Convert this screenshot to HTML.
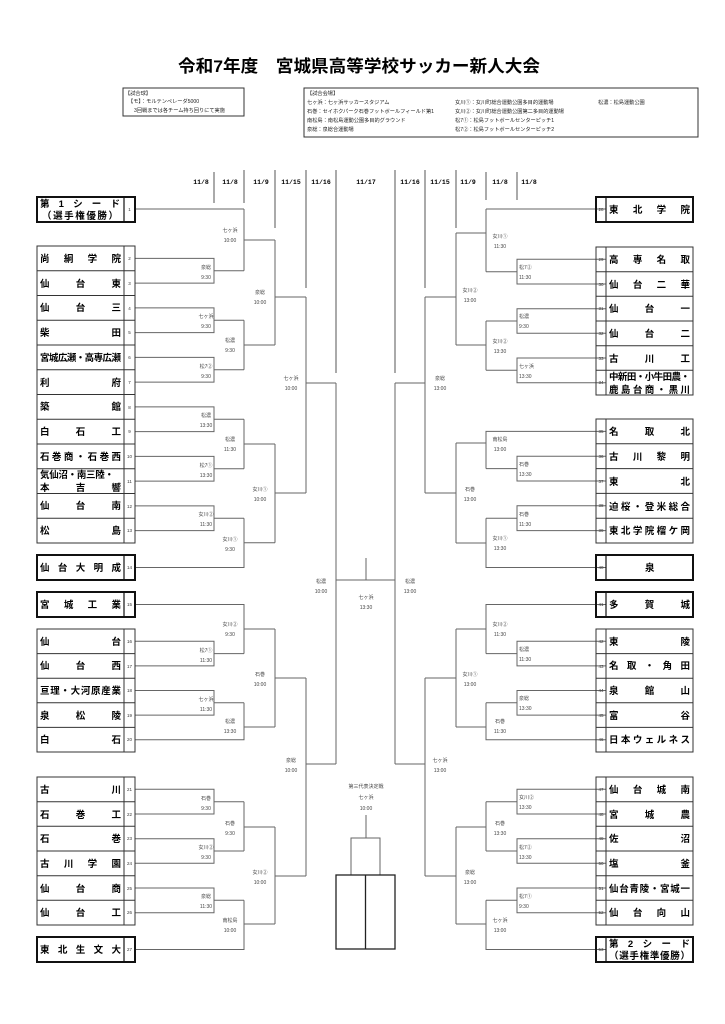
<!DOCTYPE html>
<html><head><meta charset="utf-8"><style>
html,body{margin:0;padding:0;background:#fff;}
svg{display:block;}
.t{font-family:"Liberation Sans","Noto Sans CJK JP",sans-serif;}
.nm{font-family:"Liberation Sans","Noto Sans CJK JP",sans-serif;font-weight:bold;font-size:9.5px;fill:#000;}
.no{font-family:"Liberation Sans",sans-serif;font-size:4.5px;fill:#333;}
.lb{font-family:"Liberation Sans","Noto Sans CJK JP",sans-serif;font-size:5px;fill:#444;}
.inf{font-family:"Liberation Sans","Noto Sans CJK JP",sans-serif;font-size:5.2px;fill:#222;}
.dt{font-family:"Liberation Mono",monospace;font-weight:bold;font-size:6.5px;fill:#000;}
</style></head><body>
<svg width="725" height="1024" viewBox="0 0 725 1024" xmlns="http://www.w3.org/2000/svg">
<rect width="725" height="1024" fill="#fff"/>
<text class="t" x="178" y="72" font-size="17" font-weight="bold" textLength="362" lengthAdjust="spacingAndGlyphs">令和7年度　宮城県高等学校サッカー新人大会</text>

<!-- info boxes -->
<rect x="123" y="88" width="121" height="28" fill="none" stroke="#333" stroke-width="1"/>
<text class="inf" x="125" y="95">【試合球】</text>
<text class="inf" x="128" y="103">【モ】：モルテンペレーダ5000</text>
<text class="inf" x="134" y="112">3回戦までは各チーム持ち回りにて実施</text>

<rect x="304" y="88" width="394" height="49" fill="none" stroke="#333" stroke-width="1"/>
<text class="inf" x="307" y="95">【試合会場】</text>
<text class="inf" x="307" y="104">七ヶ浜：七ヶ浜サッカースタジアム</text>
<text class="inf" x="307" y="113">石巻：セイホクパーク石巻フットボールフィールド第1</text>
<text class="inf" x="307" y="122">南松島：南松島運動公園多目的グラウンド</text>
<text class="inf" x="307" y="131">泉総：泉総合運動場</text>
<text class="inf" x="455" y="104">女川①：女川町総合運動公園多目的運動場</text>
<text class="inf" x="455" y="113">女川②：女川町総合運動公園第二多目的運動場</text>
<text class="inf" x="455" y="122">松7①：松島フットボールセンターピッチ1</text>
<text class="inf" x="455" y="131">松7②：松島フットボールセンターピッチ2</text>
<text class="inf" x="598" y="104">松濃：松島運動公園</text>

<!-- dates -->
<g class="dt" text-anchor="middle">
<text x="201" y="184">11/8</text><text x="230" y="184">11/8</text><text x="261" y="184">11/9</text>
<text x="291" y="184">11/15</text><text x="321" y="184">11/16</text><text x="366" y="184">11/17</text>
<text x="410" y="184">11/16</text><text x="440" y="184">11/15</text><text x="468" y="184">11/9</text>
<text x="500" y="184">11/8</text><text x="529" y="184">11/8</text>
</g>
<g stroke="#555" stroke-width="1" fill="none">
<path d="M214 172V203M244 170V203M275 170V228M306 170V288M336 170V373"/>
<path d="M395 170V373M425 170V288M456 170V228M486 172V200M517 172V200"/>
</g>

<!-- LEFT bracket lines -->
<g stroke="#666" stroke-width="1" fill="none">
<path d="M135 209H244"/>
<path d="M135 258.4H214V283.1H135M214 270.8H244"/>
<path d="M244 209V270.8M244 240H275"/>
<path d="M135 307.9H214V332.6H135M214 320.2H244"/>
<path d="M135 357.4H214V382.1H135M214 369.8H244"/>
<path d="M244 320.2V369.8M244 345H275"/>
<path d="M275 240V345M275 297H306"/>
<path d="M135 406.9H214V431.6H135M214 419.2H244"/>
<path d="M135 456.4H214V481.1H135M214 468.8H244"/>
<path d="M244 419.2V468.8M244 444H275"/>
<path d="M135 505.9H214V530.6H135M214 518.2H244"/>
<path d="M135 567.5H244V518.2M244 542.8H275"/>
<path d="M275 444V542.8M275 493H306"/>
<path d="M306 297V493M306 383H336"/>
<path d="M135 604.5H244V653.6M135 641.3H214V665.9H135M214 653.6H244M244 629H275"/>
<path d="M135 690.5H214V715.1H135M214 702.8H244M135 739.7H244V702.8M244 727H275"/>
<path d="M275 629V727M275 678H306"/>
<path d="M135 789.3H214V814H135M214 801.7H244"/>
<path d="M135 838.7H214V863.3H135M214 851H244"/>
<path d="M244 801.7V851M244 827H275"/>
<path d="M135 888H214V912.7H135M214 900.3H244M135 949.5H244V900.3M244 924H275"/>
<path d="M275 827V924M275 876H306"/>
<path d="M306 678V876M306 764H336"/>
<path d="M336 383V764M336 580H395M366 558V580"/>
<!-- RIGHT -->
<path d="M606 209H486"/>
<path d="M606 259.3H517V284H606M517 271.7H486"/>
<path d="M486 209V271.7M486 233H456"/>
<path d="M606 308.7H517V333.3H606M517 321H486"/>
<path d="M606 358H517V382.7H606M517 370.3H486"/>
<path d="M486 321V370.3M486 345H456"/>
<path d="M456 233V345M456 297H425"/>
<path d="M606 431.4H486V468.6M606 456.2H517V481H606M517 468.6H486M486 443H456"/>
<path d="M606 505.8H517V530.6H606M517 518.2H486M606 567.5H486V518.2M486 543H456"/>
<path d="M456 443V543M456 493H425"/>
<path d="M425 297V493M425 383H395"/>
<path d="M606 604.5H486V653.6M606 641.3H517V665.9H606M517 653.6H486M486 629H456"/>
<path d="M606 690.5H517V715.1H606M517 702.8H486M606 739.7H486V702.8M486 727H456"/>
<path d="M456 629V727M456 678H425"/>
<path d="M606 789.3H517V814H606M517 801.7H486M606 838.7H517V863.3H606M517 851H486M486 801.7V851M486 827H456"/>
<path d="M606 888H517V912.7H606M517 900.3H486M606 949.5H486V900.3M486 924H456"/>
<path d="M456 827V924M456 876H425"/>
<path d="M425 678V876M425 764H395"/>
<path d="M395 383V764"/>
<!-- third place -->
<path d="M366 815V838M351 875V838H380V875"/>
</g>
<rect x="336" y="875" width="59" height="74" fill="none" stroke="#222" stroke-width="1.3"/>
<line x1="365.5" y1="875" x2="365.5" y2="949" stroke="#222" stroke-width="1.3"/>

<!-- labels left -->
<g class="lb" text-anchor="middle">
<text x="206" y="269">泉総</text><text x="206" y="279">9:30</text>
<text x="206" y="318">七ヶ浜</text><text x="206" y="328">9:30</text>
<text x="206" y="368">松7②</text><text x="206" y="378">9:30</text>
<text x="206" y="417">松濃</text><text x="206" y="427">13:30</text>
<text x="206" y="467">松7①</text><text x="206" y="477">13:30</text>
<text x="206" y="516">女川②</text><text x="206" y="526">11:30</text>
<text x="206" y="652">松7①</text><text x="206" y="662">11:30</text>
<text x="206" y="701">七ヶ浜</text><text x="206" y="711">11:30</text>
<text x="206" y="800">石巻</text><text x="206" y="810">9:30</text>
<text x="206" y="849">女川②</text><text x="206" y="859">9:30</text>
<text x="206" y="898">泉総</text><text x="206" y="908">11:30</text>
<text x="230" y="232">七ヶ浜</text><text x="230" y="242">10:00</text>
<text x="230" y="342">松濃</text><text x="230" y="352">9:30</text>
<text x="230" y="441">松濃</text><text x="230" y="451">11:30</text>
<text x="230" y="541">女川①</text><text x="230" y="551">9:30</text>
<text x="230" y="626">女川②</text><text x="230" y="636">9:30</text>
<text x="230" y="723">松濃</text><text x="230" y="733">13:30</text>
<text x="230" y="825">石巻</text><text x="230" y="835">9:30</text>
<text x="230" y="922">南松島</text><text x="230" y="932">10:00</text>
<text x="260" y="294">泉総</text><text x="260" y="304">10:00</text>
<text x="260" y="491">女川①</text><text x="260" y="501">10:00</text>
<text x="260" y="676">石巻</text><text x="260" y="686">10:00</text>
<text x="260" y="874">女川②</text><text x="260" y="884">10:00</text>
<text x="291" y="380">七ヶ浜</text><text x="291" y="390">10:00</text>
<text x="291" y="762">泉総</text><text x="291" y="772">10:00</text>
<text x="321" y="583">松濃</text><text x="321" y="593">10:00</text>
<text x="366" y="599">七ヶ浜</text><text x="366" y="609">13:30</text>
<text x="410" y="583">松濃</text><text x="410" y="593">13:00</text>
<text x="366" y="788">第三代表決定戦</text><text x="366" y="799">七ヶ浜</text><text x="366" y="810">10:00</text>
<text x="500" y="238">女川①</text><text x="500" y="248">11:30</text>
<text x="500" y="343">女川②</text><text x="500" y="353">13:30</text>
<text x="500" y="441">南松島</text><text x="500" y="451">13:00</text>
<text x="500" y="540">女川①</text><text x="500" y="550">13:30</text>
<text x="500" y="626">女川②</text><text x="500" y="636">11:30</text>
<text x="500" y="723">石巻</text><text x="500" y="733">11:30</text>
<text x="500" y="825">石巻</text><text x="500" y="835">13:30</text>
<text x="500" y="922">七ヶ浜</text><text x="500" y="932">13:00</text>
<text x="470" y="292">女川②</text><text x="470" y="302">13:00</text>
<text x="470" y="491">石巻</text><text x="470" y="501">13:00</text>
<text x="470" y="676">女川①</text><text x="470" y="686">13:00</text>
<text x="470" y="874">泉総</text><text x="470" y="884">13:00</text>
<text x="440" y="380">泉総</text><text x="440" y="390">13:00</text>
<text x="440" y="762">七ヶ浜</text><text x="440" y="772">13:00</text>
</g>
<g class="lb">
<text x="519" y="269">松7②</text><text x="519" y="279">11:30</text>
<text x="519" y="318">松濃</text><text x="519" y="328">9:30</text>
<text x="519" y="368">七ヶ浜</text><text x="519" y="378">13:30</text>
<text x="519" y="466">石巻</text><text x="519" y="476">13:30</text>
<text x="519" y="516">石巻</text><text x="519" y="526">11:30</text>
<text x="519" y="651">松濃</text><text x="519" y="661">11:30</text>
<text x="519" y="700">泉総</text><text x="519" y="710">13:30</text>
<text x="519" y="799">女川②</text><text x="519" y="809">13:30</text>
<text x="519" y="849">松7②</text><text x="519" y="859">13:30</text>
<text x="519" y="898">松7①</text><text x="519" y="908">9:30</text>
</g>

<!-- LEFT team boxes -->
<g fill="none" stroke="#333" stroke-width="1">
<path d="M37 270.75H135M37 295.5H135M37 320.25H135M37 345H135M37 369.75H135M37 394.5H135M37 419.25H135M37 444H135M37 468.75H135M37 493.5H135M37 518.25H135"/>
<rect x="37" y="246" width="98" height="297"/><path d="M124 246V543"/>
<path d="M37 653.6H135M37 678.2H135M37 702.8H135M37 727.4H135"/>
<rect x="37" y="629" width="98" height="123"/><path d="M124 629V752"/>
<path d="M37 801.7H135M37 826.3H135M37 851H135M37 875.7H135M37 900.3H135"/>
<rect x="37" y="777" width="98" height="148"/><path d="M124 777V925"/>
<!-- right -->
<path d="M596 271.7H693M596 296.3H693M596 321H693M596 345.7H693M596 370.3H693"/>
<rect x="596" y="247" width="97" height="148"/><path d="M606 247V395"/>
<path d="M596 443.8H693M596 468.6H693M596 493.4H693M596 518.2H693"/>
<rect x="596" y="419" width="97" height="124"/><path d="M606 419V543"/>
<path d="M596 653.6H693M596 678.2H693M596 702.8H693M596 727.4H693"/>
<rect x="596" y="629" width="97" height="123"/><path d="M606 629V752"/>
<path d="M596 801.7H693M596 826.3H693M596 851H693M596 875.7H693M596 900.3H693"/>
<rect x="596" y="777" width="97" height="148"/><path d="M606 777V925"/>
</g>
<g fill="none" stroke="#111" stroke-width="2">
<rect x="37" y="197" width="98" height="25"/><rect x="37" y="555" width="98" height="25"/>
<rect x="37" y="592" width="98" height="25"/><rect x="37" y="937" width="98" height="25"/>
<rect x="596" y="197" width="97" height="25"/><rect x="596" y="555" width="97" height="25"/>
<rect x="596" y="592" width="97" height="25"/><rect x="596" y="937" width="97" height="25"/>
</g>
<g stroke="#111" stroke-width="1.2">
<path d="M124 197V222M124 555V580M124 592V617M124 937V962M606 197V222M606 555V580M606 592V617M606 937V962"/>
</g>

<!-- numbers -->
<g class="no" text-anchor="middle">
<text x="129.5" y="211">1</text><text x="129.5" y="260">2</text><text x="129.5" y="285">3</text><text x="129.5" y="310">4</text><text x="129.5" y="334">5</text><text x="129.5" y="359">6</text><text x="129.5" y="384">7</text><text x="129.5" y="409">8</text><text x="129.5" y="433">9</text><text x="129.5" y="458">10</text><text x="129.5" y="483">11</text><text x="129.5" y="508">12</text><text x="129.5" y="532">13</text><text x="129.5" y="569">14</text><text x="129.5" y="606">15</text><text x="129.5" y="643">16</text><text x="129.5" y="668">17</text><text x="129.5" y="692">18</text><text x="129.5" y="717">19</text><text x="129.5" y="741">20</text><text x="129.5" y="791">21</text><text x="129.5" y="816">22</text><text x="129.5" y="840">23</text><text x="129.5" y="865">24</text><text x="129.5" y="890">25</text><text x="129.5" y="914">26</text><text x="129.5" y="951">27</text>
<text x="601" y="211">28</text><text x="601" y="261">29</text><text x="601" y="286">30</text><text x="601" y="310">31</text><text x="601" y="335">32</text><text x="601" y="360">33</text><text x="601" y="384">34</text><text x="601" y="433">35</text><text x="601" y="458">36</text><text x="601" y="483">37</text><text x="601" y="507">38</text><text x="601" y="532">39</text><text x="601" y="569">40</text><text x="601" y="606">41</text><text x="601" y="643">42</text><text x="601" y="668">43</text><text x="601" y="692">44</text><text x="601" y="717">45</text><text x="601" y="741">46</text><text x="601" y="791">47</text><text x="601" y="816">48</text><text x="601" y="840">49</text><text x="601" y="865">50</text><text x="601" y="890">51</text><text x="601" y="914">52</text><text x="601" y="951">53</text>
</g>

<!-- team names left -->
<g class="nm" lengthAdjust="spacing">
<text x="40" y="207" textLength="80" lengthAdjust="spacing">第1シード</text>
<text x="42" y="219" textLength="76" lengthAdjust="spacing">（選手権優勝）</text>
<text x="40" y="262" textLength="81" lengthAdjust="spacing">尚絅学院</text>
<text x="40" y="287" textLength="81" lengthAdjust="spacing">仙台東</text>
<text x="40" y="311" textLength="81" lengthAdjust="spacing">仙台三</text>
<text x="40" y="336" textLength="81" lengthAdjust="spacing">柴田</text>
<text x="40" y="361" textLength="81" lengthAdjust="spacing">宮城広瀬・高専広瀬</text>
<text x="40" y="386" textLength="81" lengthAdjust="spacing">利府</text>
<text x="40" y="410" textLength="81" lengthAdjust="spacing">築館</text>
<text x="40" y="435" textLength="81" lengthAdjust="spacing">白石工</text>
<text x="40" y="460" textLength="81" lengthAdjust="spacing">石巻商・石巻西</text>
<text x="40" y="478" textLength="74" lengthAdjust="spacing">気仙沼・南三陸・</text>
<text x="40" y="491" textLength="81" lengthAdjust="spacing">本吉響</text>
<text x="40" y="509" textLength="81" lengthAdjust="spacing">仙台南</text>
<text x="40" y="534" textLength="81" lengthAdjust="spacing">松島</text>
<text x="40" y="571" textLength="81" lengthAdjust="spacing">仙台大明成</text>
<text x="40" y="608" textLength="81" lengthAdjust="spacing">宮城工業</text>
<text x="40" y="645" textLength="81" lengthAdjust="spacing">仙台</text>
<text x="40" y="669" textLength="81" lengthAdjust="spacing">仙台西</text>
<text x="40" y="694" textLength="81" lengthAdjust="spacing">亘理・大河原産業</text>
<text x="40" y="719" textLength="81" lengthAdjust="spacing">泉松陵</text>
<text x="40" y="743" textLength="81" lengthAdjust="spacing">白石</text>
<text x="40" y="793" textLength="81" lengthAdjust="spacing">古川</text>
<text x="40" y="818" textLength="81" lengthAdjust="spacing">石巻工</text>
<text x="40" y="842" textLength="81" lengthAdjust="spacing">石巻</text>
<text x="40" y="867" textLength="81" lengthAdjust="spacing">古川学園</text>
<text x="40" y="892" textLength="81" lengthAdjust="spacing">仙台商</text>
<text x="40" y="916" textLength="81" lengthAdjust="spacing">仙台工</text>
<text x="40" y="953" textLength="81" lengthAdjust="spacing">東北生文大</text>
<!-- right -->
<text x="609" y="213" textLength="81" lengthAdjust="spacing">東北学院</text>
<text x="609" y="263" textLength="81" lengthAdjust="spacing">高専名取</text>
<text x="609" y="288" textLength="81" lengthAdjust="spacing">仙台二華</text>
<text x="609" y="312" textLength="81" lengthAdjust="spacing">仙台一</text>
<text x="609" y="337" textLength="81" lengthAdjust="spacing">仙台二</text>
<text x="609" y="362" textLength="81" lengthAdjust="spacing">古川工</text>
<text x="609" y="380" textLength="81" lengthAdjust="spacing">中新田・小牛田農・</text>
<text x="609" y="393" textLength="81" lengthAdjust="spacing">鹿島台商・黒川</text>
<text x="609" y="435" textLength="81" lengthAdjust="spacing">名取北</text>
<text x="609" y="460" textLength="81" lengthAdjust="spacing">古川黎明</text>
<text x="609" y="485" textLength="81" lengthAdjust="spacing">東北</text>
<text x="609" y="510" textLength="81" lengthAdjust="spacing">迫桜・登米総合</text>
<text x="609" y="534" textLength="81" lengthAdjust="spacing">東北学院榴ケ岡</text>
<text x="645" y="571">泉</text>
<text x="609" y="608" textLength="81" lengthAdjust="spacing">多賀城</text>
<text x="609" y="645" textLength="81" lengthAdjust="spacing">東陵</text>
<text x="609" y="669" textLength="81" lengthAdjust="spacing">名取・角田</text>
<text x="609" y="694" textLength="81" lengthAdjust="spacing">泉館山</text>
<text x="609" y="719" textLength="81" lengthAdjust="spacing">富谷</text>
<text x="609" y="743" textLength="81" lengthAdjust="spacing">日本ウェルネス</text>
<text x="609" y="793" textLength="81" lengthAdjust="spacing">仙台城南</text>
<text x="609" y="818" textLength="81" lengthAdjust="spacing">宮城農</text>
<text x="609" y="842" textLength="81" lengthAdjust="spacing">佐沼</text>
<text x="609" y="867" textLength="81" lengthAdjust="spacing">塩釜</text>
<text x="609" y="892" textLength="81" lengthAdjust="spacing">仙台青陵・宮城一</text>
<text x="609" y="916" textLength="81" lengthAdjust="spacing">仙台向山</text>
<text x="609" y="947" textLength="81" lengthAdjust="spacing">第2シード</text>
<text x="609" y="959" textLength="81" lengthAdjust="spacing">（選手権準優勝）</text>
</g>
</svg>
</body></html>
